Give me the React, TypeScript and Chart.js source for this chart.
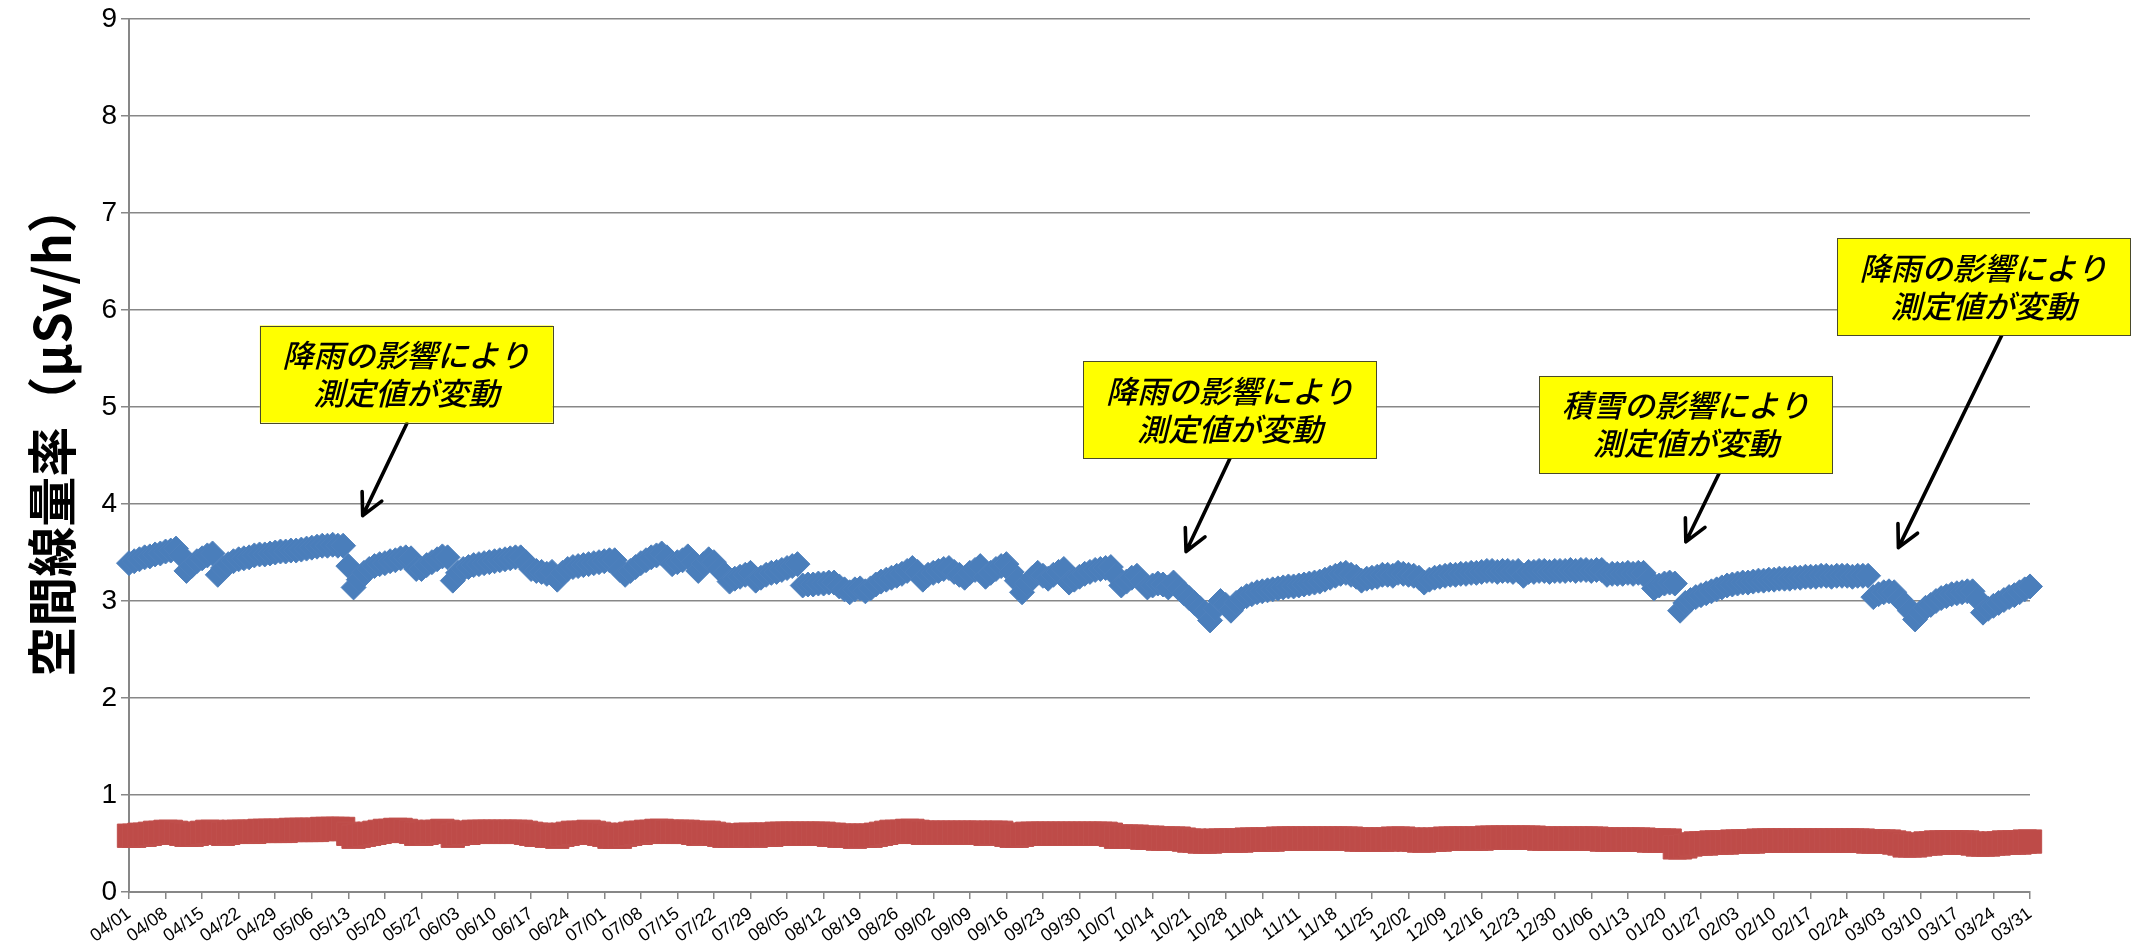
import { useEffect, useRef } from 'react';
import { Chart, registerables } from 'chart.js';

Chart.register(...registerables);

// ---- categories: one per day, 04/01 .. 03/31 (365 days) ----
const FIRST_DAY = new Date(2010, 3, 1);
const DAY_COUNT = 365;
const CATEGORIES: string[] = Array.from({ length: DAY_COUNT }, (_, i) => {
  const d = new Date(FIRST_DAY.getFullYear(), FIRST_DAY.getMonth(), FIRST_DAY.getDate() + i);
  return String(d.getMonth() + 1).padStart(2, '0') + '/' + String(d.getDate()).padStart(2, '0');
});
const LABEL_EVERY = 7;

// ---- y axis ----
const Y_MIN = 0;
const Y_MAX = 9;
const Y_STEP = 1;
const Y_TITLE = '空間線量率（μSv/h）';

// ---- series 1 (blue diamonds), one line per week ----
const SERIES_BLUE: number[] = [
  3.39, 3.41, 3.43, 3.45, 3.46, 3.48, 3.49,
  3.51, 3.52, 3.54, 3.47, 3.31, 3.36, 3.41,
  3.44, 3.47, 3.49, 3.27, 3.34, 3.38, 3.41,
  3.43, 3.44, 3.45, 3.47, 3.48, 3.48, 3.49,
  3.50, 3.51, 3.51, 3.52, 3.52, 3.53, 3.54,
  3.55, 3.56, 3.57, 3.57, 3.58, 3.57, 3.57,
  3.36, 3.14, 3.22, 3.29, 3.33, 3.36, 3.38,
  3.39, 3.41, 3.42, 3.44, 3.45, 3.44, 3.33,
  3.33, 3.37, 3.40, 3.43, 3.46, 3.45, 3.21,
  3.29, 3.33, 3.35, 3.37, 3.38, 3.39, 3.40,
  3.41, 3.42, 3.43, 3.44, 3.45, 3.45, 3.40,
  3.33, 3.31, 3.30, 3.28, 3.30, 3.22, 3.29,
  3.33, 3.35, 3.36, 3.37, 3.38, 3.39, 3.40,
  3.41, 3.42, 3.42, 3.32, 3.27, 3.31, 3.35,
  3.39, 3.42, 3.45, 3.47, 3.49, 3.45, 3.38,
  3.40, 3.42, 3.46, 3.40, 3.31, 3.38, 3.43,
  3.40, 3.33, 3.28, 3.20, 3.23, 3.25, 3.27,
  3.29, 3.21, 3.24, 3.27, 3.29, 3.30, 3.32,
  3.34, 3.36, 3.38, 3.16, 3.17, 3.17, 3.18,
  3.18, 3.19, 3.19, 3.15, 3.12, 3.09, 3.12,
  3.13, 3.10, 3.13, 3.17, 3.20, 3.22, 3.24,
  3.26, 3.28, 3.31, 3.34, 3.30, 3.22, 3.27,
  3.29, 3.31, 3.33, 3.34, 3.30, 3.27, 3.24,
  3.29, 3.32, 3.36, 3.25, 3.29, 3.33, 3.36,
  3.38, 3.30, 3.21, 3.09, 3.18, 3.24, 3.29,
  3.26, 3.23, 3.27, 3.30, 3.33, 3.19, 3.22,
  3.25, 3.28, 3.30, 3.32, 3.33, 3.34, 3.35,
  3.26, 3.16, 3.20, 3.24, 3.26, 3.20, 3.14,
  3.16, 3.18, 3.17, 3.14, 3.19, 3.13, 3.08,
  3.03, 2.98, 2.93, 2.88, 2.80, 2.92, 3.00,
  2.96, 2.90, 2.98, 3.02, 3.05, 3.07, 3.09,
  3.10, 3.11, 3.12, 3.13, 3.14, 3.15, 3.15,
  3.16, 3.17, 3.18, 3.19, 3.20, 3.22, 3.24,
  3.26, 3.28, 3.29, 3.27, 3.25, 3.21, 3.23,
  3.24, 3.25, 3.27, 3.27, 3.26, 3.29, 3.28,
  3.27, 3.26, 3.24, 3.19, 3.22, 3.24, 3.25,
  3.26, 3.27, 3.27, 3.28, 3.28, 3.29, 3.29,
  3.30, 3.31, 3.31, 3.30, 3.31, 3.31, 3.30,
  3.31, 3.26, 3.30, 3.30, 3.31, 3.31, 3.30,
  3.31, 3.31, 3.31, 3.32, 3.31, 3.32, 3.32,
  3.31, 3.32, 3.32, 3.27, 3.28, 3.28, 3.28,
  3.29, 3.28, 3.29, 3.29, 3.22, 3.13, 3.16,
  3.18, 3.19, 3.18, 2.90, 2.98, 3.01, 3.04,
  3.06, 3.08, 3.10, 3.12, 3.14, 3.16, 3.17,
  3.18, 3.19, 3.19, 3.20, 3.21, 3.21, 3.22,
  3.22, 3.23, 3.23, 3.23, 3.24, 3.24, 3.25,
  3.25, 3.25, 3.26, 3.26, 3.25, 3.26, 3.26,
  3.26, 3.25, 3.26, 3.26, 3.26, 3.04, 3.07,
  3.09, 3.10, 3.09, 3.02, 2.97, 2.90, 2.81,
  2.88, 2.93, 2.96, 3.00, 3.03, 3.05, 3.07,
  3.08, 3.09, 3.10, 3.10, 3.02, 2.88, 2.92,
  2.95, 2.98, 3.01, 3.04, 3.06, 3.09, 3.12,
  3.15,
];

// ---- series 2 (red squares), one line per week ----
const SERIES_RED: number[] = [
  0.58, 0.58, 0.59, 0.59, 0.60, 0.61, 0.61,
  0.62, 0.62, 0.61, 0.60, 0.59, 0.59, 0.60,
  0.61, 0.62, 0.62, 0.61, 0.60, 0.61, 0.62,
  0.62, 0.62, 0.62, 0.62, 0.63, 0.63, 0.63,
  0.63, 0.63, 0.63, 0.64, 0.64, 0.64, 0.64,
  0.64, 0.64, 0.65, 0.65, 0.65, 0.65, 0.65,
  0.60, 0.57, 0.58, 0.59, 0.60, 0.61, 0.62,
  0.63, 0.63, 0.64, 0.64, 0.63, 0.62, 0.60,
  0.60, 0.61, 0.62, 0.62, 0.63, 0.62, 0.58,
  0.60, 0.61, 0.61, 0.62, 0.62, 0.62, 0.62,
  0.62, 0.62, 0.62, 0.62, 0.62, 0.62, 0.61,
  0.60, 0.59, 0.59, 0.58, 0.58, 0.57, 0.59,
  0.60, 0.61, 0.61, 0.61, 0.62, 0.61, 0.60,
  0.59, 0.57, 0.57, 0.57, 0.59, 0.60, 0.61,
  0.61, 0.62, 0.62, 0.63, 0.63, 0.62, 0.62,
  0.62, 0.62, 0.62, 0.61, 0.60, 0.61, 0.61,
  0.60, 0.59, 0.58, 0.58, 0.58, 0.58, 0.59,
  0.59, 0.58, 0.59, 0.59, 0.59, 0.60, 0.60,
  0.60, 0.60, 0.60, 0.60, 0.60, 0.60, 0.60,
  0.60, 0.59, 0.59, 0.58, 0.58, 0.58, 0.57,
  0.58, 0.58, 0.58, 0.59, 0.60, 0.61, 0.62,
  0.62, 0.62, 0.63, 0.63, 0.62, 0.61, 0.61,
  0.61, 0.61, 0.61, 0.61, 0.61, 0.61, 0.61,
  0.61, 0.61, 0.61, 0.60, 0.61, 0.61, 0.61,
  0.59, 0.58, 0.58, 0.59, 0.60, 0.60, 0.60,
  0.60, 0.60, 0.60, 0.60, 0.60, 0.60, 0.60,
  0.60, 0.60, 0.60, 0.60, 0.60, 0.60, 0.59,
  0.57, 0.57, 0.57, 0.57, 0.57, 0.56, 0.56,
  0.56, 0.55, 0.55, 0.55, 0.55, 0.55, 0.54,
  0.53, 0.53, 0.52, 0.52, 0.52, 0.53, 0.53,
  0.53, 0.53, 0.53, 0.53, 0.54, 0.54, 0.54,
  0.54, 0.54, 0.54, 0.55, 0.55, 0.55, 0.55,
  0.55, 0.55, 0.55, 0.55, 0.55, 0.55, 0.55,
  0.55, 0.55, 0.55, 0.55, 0.54, 0.54, 0.54,
  0.54, 0.54, 0.54, 0.54, 0.55, 0.55, 0.55,
  0.54, 0.54, 0.53, 0.53, 0.54, 0.54, 0.54,
  0.55, 0.55, 0.55, 0.55, 0.55, 0.55, 0.55,
  0.55, 0.56, 0.56, 0.56, 0.56, 0.56, 0.56,
  0.56, 0.56, 0.56, 0.56, 0.55, 0.55, 0.55,
  0.55, 0.55, 0.55, 0.55, 0.55, 0.55, 0.55,
  0.55, 0.55, 0.54, 0.54, 0.54, 0.54, 0.54,
  0.54, 0.54, 0.54, 0.54, 0.53, 0.53, 0.53,
  0.53, 0.53, 0.46, 0.46, 0.47, 0.49, 0.50,
  0.50, 0.50, 0.51, 0.51, 0.51, 0.51, 0.52,
  0.52, 0.52, 0.52, 0.52, 0.53, 0.53, 0.53,
  0.53, 0.53, 0.53, 0.53, 0.53, 0.53, 0.53,
  0.53, 0.53, 0.53, 0.53, 0.53, 0.53, 0.53,
  0.53, 0.53, 0.53, 0.53, 0.52, 0.52, 0.52,
  0.52, 0.52, 0.51, 0.50, 0.48, 0.48, 0.48,
  0.49, 0.50, 0.50, 0.51, 0.51, 0.51, 0.51,
  0.51, 0.51, 0.51, 0.50, 0.49, 0.49, 0.49,
  0.50, 0.50, 0.51, 0.51, 0.51, 0.51, 0.52,
  0.52,
];

// ---- callouts: text, box centre, arrow start / tip (day index, value) ----
const NOTE_LINES: string[][] = [
  ['降雨の影響により', '測定値が変動'],
  ['降雨の影響により', '測定値が変動'],
  ['積雪の影響により', '測定値が変動'],
  ['降雨の影響により', '測定値が変動'],
];
const NOTE_BOX_CENTER: number[][] = [
  [53.1, 5.34],
  [210.8, 4.97],
  [298.1, 4.82],
  [355.1, 6.24],
];
const NOTE_ARROW_FROM: number[][] = [
  [53.2, 4.83],
  [210.8, 4.47],
  [304.5, 4.32],
  [358.6, 5.74],
];
const NOTE_ARROW_TO: number[][] = [
  [44.75, 3.88],
  [202.4, 3.51],
  [298.1, 3.61],
  [338.8, 3.55],
];

const W = 2134;
const H = 946;
const GRID = '#878787';
const JP = '"Noto Sans CJK JP", "Noto Sans", sans-serif';
const SANS = '"Liberation Sans", Arial, sans-serif';

const overlayPlugin = {
  id: 'overlay',
  afterDraw(chart: any) {
    const ctx: CanvasRenderingContext2D = chart.ctx;
    const xs = chart.scales.x;
    const ys = chart.scales.y;
    // y-axis title
    ctx.save();
    ctx.translate(52, 430);
    ctx.rotate(-Math.PI / 2);
    ctx.font = `bold 50px ${JP}`;
    ctx.fillStyle = '#000';
    ctx.textAlign = 'center';
    ctx.textBaseline = 'middle';
    ctx.fillText(Y_TITLE, 0, 0);
    ctx.restore();

    NOTE_LINES.forEach((lines, i) => {
      const fx = xs.getPixelForValue(NOTE_ARROW_FROM[i][0]);
      const fy = ys.getPixelForValue(NOTE_ARROW_FROM[i][1]);
      const tx = xs.getPixelForValue(NOTE_ARROW_TO[i][0]);
      const ty = ys.getPixelForValue(NOTE_ARROW_TO[i][1]);
      const ang = Math.atan2(fy - ty, fx - tx);
      const head = 24;
      const spread = (27 * Math.PI) / 180;
      ctx.save();
      ctx.strokeStyle = '#000';
      ctx.lineWidth = 3.6;
      ctx.lineCap = 'round';
      ctx.lineJoin = 'round';
      ctx.beginPath();
      ctx.moveTo(fx, fy);
      ctx.lineTo(tx, ty);
      ctx.moveTo(tx + head * Math.cos(ang - spread), ty + head * Math.sin(ang - spread));
      ctx.lineTo(tx, ty);
      ctx.lineTo(tx + head * Math.cos(ang + spread), ty + head * Math.sin(ang + spread));
      ctx.stroke();
      ctx.restore();

      const cx = xs.getPixelForValue(NOTE_BOX_CENTER[i][0]);
      const cy = ys.getPixelForValue(NOTE_BOX_CENTER[i][1]);
      const bw = 293;
      const bh = 97;
      ctx.save();
      ctx.fillStyle = '#FFFF00';
      ctx.fillRect(cx - bw / 2, cy - bh / 2, bw, bh);
      ctx.strokeStyle = '#4a4a2a';
      ctx.lineWidth = 1;
      ctx.strokeRect(Math.round(cx - bw / 2) + 0.5, Math.round(cy - bh / 2) + 0.5, bw, bh);
      ctx.fillStyle = '#000';
      ctx.font = `italic 500 31px ${JP}`;
      ctx.textAlign = 'center';
      ctx.textBaseline = 'middle';
      ctx.fillText(lines[0], cx, cy - 19);
      ctx.fillText(lines[1], cx, cy + 19);
      ctx.restore();
    });
  },
};

export default function App() {
  const ref = useRef<HTMLCanvasElement | null>(null);
  useEffect(() => {
    if (!ref.current) return;
    const chart = new Chart(ref.current, {
      type: 'line',
      data: {
        labels: CATEGORIES,
        datasets: [
          {
            label: 'blue',
            data: SERIES_BLUE,
            showLine: false,
            pointStyle: 'rectRot',
            pointRadius: 12.5,
            pointBackgroundColor: '#4A7EBB',
            pointBorderColor: '#4F81BD',
            pointBorderWidth: 1,
          },
          {
            label: 'red',
            data: SERIES_RED,
            showLine: false,
            pointStyle: 'rect',
            pointRadius: 16.5,
            pointBackgroundColor: '#BE4B48',
            pointBorderColor: '#C0504D',
            pointBorderWidth: 1,
          },
        ],
      },
      options: {
        responsive: false,
        animation: false,
        devicePixelRatio: 1,
        layout: { autoPadding: false, padding: { left: 0, top: 19, right: 104, bottom: 0 } },
        plugins: {
          legend: { display: false },
          title: { display: false },
          tooltip: { enabled: false },
        },
        events: [],
        scales: {
          x: {
            type: 'category',
            offset: false,
            grid: {
              display: true,
              drawOnChartArea: false,
              drawTicks: true,
              tickLength: 7,
              lineWidth: 1.5,
              color: (c: any) => (c.index % LABEL_EVERY === 0 ? GRID : 'rgba(0,0,0,0)'),
            },
            border: { display: true, color: GRID, width: 2 },
            ticks: {
              autoSkip: false,
              minRotation: 36,
              maxRotation: 36,
              padding: 4,
              color: '#000',
              font: { family: SANS, size: 18 },
              callback: (_v: any, i: number) => (i % LABEL_EVERY === 0 ? CATEGORIES[i] : ''),
            },
            afterFit: (s: any) => {
              s.height = 54;
              s.paddingLeft = 0;
              s.paddingRight = 0;
            },
          },
          y: {
            min: Y_MIN,
            max: Y_MAX,
            ticks: {
              stepSize: Y_STEP,
              color: '#000',
              padding: 4,
              font: { family: SANS, size: 28 },
            },
            grid: { color: GRID, lineWidth: 1.5, tickLength: 8 },
            border: { display: true, color: GRID, width: 2 },
            afterFit: (s: any) => {
              s.width = 129;
              s.paddingTop = 0;
              s.paddingBottom = 0;
            },
          },
        },
      },
      plugins: [overlayPlugin],
    });
    return () => chart.destroy();
  }, []);
  return (
    <div style={{ position: 'absolute', left: 0, top: 0, width: W, height: H, background: '#fff' }}>
      <canvas ref={ref} width={W} height={H} style={{ width: W, height: H, display: 'block' }} />
    </div>
  );
}
